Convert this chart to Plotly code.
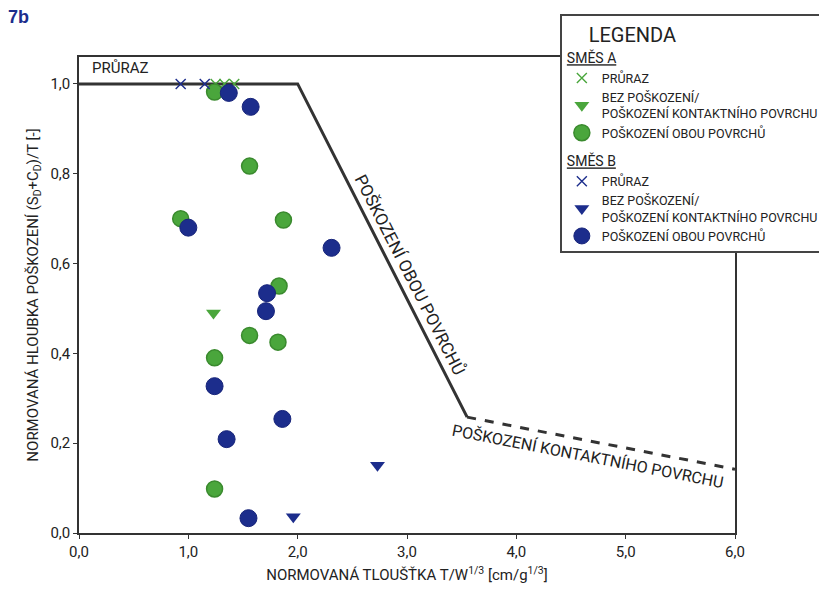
import plotly.graph_objects as go

# ---- data ----
a_cross_x = [1.25, 1.33, 1.42]
a_cross_y = [1.0, 1.0, 1.0]
a_tri_x = [1.23]
a_tri_y = [0.49]
a_circ_x = [1.24, 1.56, 0.93, 1.87, 1.83, 1.56, 1.82, 1.24, 1.24]
a_circ_y = [0.982, 0.817, 0.70, 0.697, 0.55, 0.44, 0.425, 0.39, 0.098]

b_cross_x = [0.93, 1.15]
b_cross_y = [1.0, 1.0]
b_tri_x = [1.96, 2.73]
b_tri_y = [0.036, 0.151]
b_circ_x = [1.37, 1.57, 1.0, 2.31, 1.72, 1.71, 1.24, 1.86, 1.35, 1.55]
b_circ_y = [0.98, 0.949, 0.68, 0.635, 0.534, 0.494, 0.327, 0.254, 0.209, 0.033]

solid_x = [0.0, 2.0, 3.55]
solid_y = [1.0, 1.0, 0.258]
dash_x = [3.55, 6.0]
dash_y = [0.258, 0.142]

x_ticks = [0, 1, 2, 3, 4, 5, 6]
y_ticks = [0, 0.2, 0.4, 0.6, 0.8, 1.0]

GREEN = "#4aa63c"
GREEN_DARK = "#3a8a2e"
BLUE = "#1c2d8c"
FONT = "Roboto, Liberation Sans, sans-serif"

fig = go.Figure()

fig.add_trace(go.Scatter(x=solid_x, y=solid_y, mode="lines",
                         line=dict(color="#333333", width=3), showlegend=False, hoverinfo="skip"))
fig.add_trace(go.Scatter(x=dash_x, y=dash_y, mode="lines",
                         line=dict(color="#333333", width=3, dash="dash"), showlegend=False, hoverinfo="skip"))

fig.add_trace(go.Scatter(x=a_cross_x, y=a_cross_y, mode="markers", name="PRŮRAZ",
                         legendgroup="A", legendgrouptitle=dict(text="<u>SMĚS A</u>"),
                         marker=dict(symbol="x-thin-open", size=10, line=dict(color=GREEN, width=1.4), color=GREEN)))
fig.add_trace(go.Scatter(x=a_tri_x, y=a_tri_y, mode="markers", name="BEZ POŠKOZENÍ/<br>POŠKOZENÍ KONTAKTNÍHO POVRCHU",
                         legendgroup="A",
                         marker=dict(symbol="triangle-down", size=13, color=GREEN)))
fig.add_trace(go.Scatter(x=a_circ_x, y=a_circ_y, mode="markers", name="POŠKOZENÍ OBOU POVRCHŮ",
                         legendgroup="A",
                         marker=dict(symbol="circle", size=16, color=GREEN, line=dict(color=GREEN_DARK, width=1.5))))

fig.add_trace(go.Scatter(x=b_cross_x, y=b_cross_y, mode="markers", name="PRŮRAZ",
                         legendgroup="B", legendgrouptitle=dict(text="<u>SMĚS B</u>"),
                         marker=dict(symbol="x-thin-open", size=10, line=dict(color=BLUE, width=1.4), color=BLUE)))
fig.add_trace(go.Scatter(x=b_tri_x, y=b_tri_y, mode="markers", name="BEZ POŠKOZENÍ/<br>POŠKOZENÍ KONTAKTNÍHO POVRCHU",
                         legendgroup="B",
                         marker=dict(symbol="triangle-down", size=13, color=BLUE)))
fig.add_trace(go.Scatter(x=b_circ_x, y=b_circ_y, mode="markers", name="POŠKOZENÍ OBOU POVRCHŮ",
                         legendgroup="B",
                         marker=dict(symbol="circle", size=17, color=BLUE, line=dict(color="#17247a", width=1))))

fig.update_layout(
    width=827, height=593,
    margin=dict(l=71, r=100, t=49, b=68, autoexpand=False),
    paper_bgcolor="white", plot_bgcolor="white",
    separators=", ",
    font=dict(family=FONT, size=14, color="#222222"),
    legend=dict(
        title=dict(text="     LEGENDA", font=dict(size=20, family=FONT)),
        x=0.733, y=1.09, xanchor="left", yanchor="top",
        bordercolor="#444444", borderwidth=2, bgcolor="white",
        font=dict(size=12.5, family=FONT),
        grouptitlefont=dict(size=14, family=FONT),
        tracegroupgap=8, traceorder="grouped",
    ),
    xaxis=dict(range=[0, 6], tickvals=x_ticks, tickformat=".1f",
               showgrid=False, zeroline=False, showline=True, linecolor="#333333", linewidth=1.5,
               mirror=True, ticks="outside", ticklen=4, tickcolor="#333333",
               title=dict(text="NORMOVANÁ TLOUŠŤKA T/W<sup>1/3</sup> [cm/g<sup>1/3</sup>]", font=dict(size=15), standoff=10),
               tickfont=dict(size=15)),
    yaxis=dict(range=[0, 1.06], tickvals=y_ticks, tickformat=".1f",
               showgrid=False, zeroline=False, showline=True, linecolor="#333333", linewidth=1.5,
               mirror=True, ticks="outside", ticklen=4, tickcolor="#333333",
               title=dict(text="NORMOVANÁ HLOUBKA POŠKOZENÍ (S<sub>D</sub>+C<sub>D</sub>)/T [-]", font=dict(size=15), standoff=8),
               tickfont=dict(size=15)),
)

fig.add_annotation(x=-0.111, y=1.11, xref="paper", yref="paper", text="<b>7b</b>", showarrow=False,
                   xanchor="left", yanchor="top", font=dict(size=18, color=BLUE, family="Liberation Sans, sans-serif"))

fig.add_annotation(x=0.1, y=1.035, xref="x", yref="y", text="PRŮRAZ", showarrow=False,
                   xanchor="left", yanchor="middle", font=dict(size=15))
fig.add_annotation(x=3.03, y=0.575, xref="x", yref="y", text="POŠKOZENÍ OBOU POVRCHŮ", showarrow=False,
                   textangle=63, font=dict(size=17))
fig.add_annotation(x=4.66, y=0.172, xref="x", yref="y", text="POŠKOZENÍ KONTAKTNÍHO POVRCHU", showarrow=False,
                   textangle=11, font=dict(size=16))

fig.write_html("out.html")
